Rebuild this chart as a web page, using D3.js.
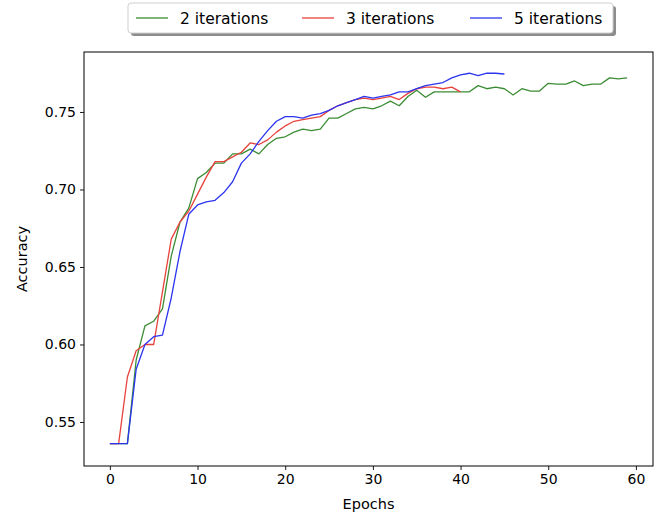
<!DOCTYPE html>
<html>
<head>
<meta charset="utf-8">
<script src="https://cdn.jsdelivr.net/npm/d3@7"></script>
<style>
  html, body { margin: 0; padding: 0; background: #fff; }
  svg { display: block; font-family: "DejaVu Sans", sans-serif; }
</style>
</head>
<body>
<svg id="chart" width="659" height="516"></svg>
<script>
// Validation accuracy per epoch for each number of iterations
const seriesNames = ["2 iterations", "3 iterations", "5 iterations"];
const seriesColors = ["#3b8c34", "#e8423d", "#2b35ee"];

const acc2 = [0.536, 0.536, 0.536, 0.590, 0.612, 0.615, 0.623, 0.657, 0.679, 0.688,
              0.707, 0.711, 0.717, 0.717, 0.723, 0.723, 0.726, 0.723, 0.729, 0.733,
              0.734, 0.737, 0.739, 0.738, 0.739, 0.746, 0.746, 0.749, 0.752, 0.753,
              0.752, 0.754, 0.757, 0.754, 0.760, 0.764, 0.7595, 0.763, 0.763, 0.763,
              0.763, 0.763, 0.767, 0.765, 0.766, 0.765, 0.761, 0.765, 0.7635, 0.7635,
              0.7685, 0.768, 0.768, 0.770, 0.767, 0.768, 0.768, 0.772, 0.7713, 0.772];

const acc3 = [0.536, 0.536, 0.579, 0.596, 0.600, 0.600, 0.634, 0.668, 0.679, 0.686,
              0.697, 0.708, 0.718, 0.718, 0.721, 0.724, 0.730, 0.729, 0.732, 0.737,
              0.741, 0.744, 0.745, 0.746, 0.747, 0.751, 0.754, 0.756, 0.758, 0.759,
              0.758, 0.759, 0.760, 0.758, 0.762, 0.765, 0.766, 0.766, 0.765, 0.766,
              0.763];

const acc5 = [0.536, 0.536, 0.536, 0.584, 0.600, 0.605, 0.606, 0.630, 0.660, 0.684,
              0.690, 0.692, 0.693, 0.698, 0.705, 0.717, 0.723, 0.731, 0.738, 0.744,
              0.747, 0.747, 0.746, 0.748, 0.749, 0.751, 0.754, 0.756, 0.758, 0.760,
              0.759, 0.760, 0.761, 0.763, 0.763, 0.765, 0.767, 0.768, 0.769, 0.772,
              0.774, 0.775, 0.7735, 0.775, 0.775, 0.7745];

const xTicks = [0, 10, 20, 30, 40, 50, 60];
const yTicks = [0.55, 0.60, 0.65, 0.70, 0.75];
const xDomain = [-2.95, 61.95];
const yDomain = [0.5216, 0.7887];

const allSeries = [acc2, acc3, acc5];

const svg = d3.select("#chart");
const plot = { left: 84, right: 653, top: 52, bottom: 466 };

const x = d3.scaleLinear().domain(xDomain).range([plot.left, plot.right]);
const y = d3.scaleLinear().domain(yDomain).range([plot.bottom, plot.top]);

// Axes
const xAxis = d3.axisBottom(x).tickValues(xTicks).tickFormat(d3.format("d"))
  .tickSizeInner(4).tickSizeOuter(0).tickPadding(4);
const yAxis = d3.axisLeft(y).tickValues(yTicks).tickFormat(d3.format(".2f"))
  .tickSizeInner(4).tickSizeOuter(0).tickPadding(4);

const gx = svg.append("g").attr("transform", `translate(0,${plot.bottom})`).call(xAxis);
const gy = svg.append("g").attr("transform", `translate(${plot.left},0)`).call(yAxis);
[gx, gy].forEach(g => {
  g.select(".domain").remove();
  g.selectAll(".tick line").attr("stroke", "#000").attr("stroke-width", 0.9);
  g.selectAll(".tick text").attr("fill", "#000").style("font-size", "14px")
    .style("font-family", "DejaVu Sans, sans-serif");
});

// Lines
const line = d3.line().x((d, i) => x(i)).y(d => y(d));
const lineGroup = svg.append("g");
allSeries.forEach((data, k) => {
  lineGroup.append("path")
    .datum(data)
    .attr("fill", "none")
    .attr("stroke", seriesColors[k])
    .attr("stroke-width", 1.3)
    .attr("stroke-linejoin", "round")
    .attr("d", line);
});

// Frame
svg.append("rect")
  .attr("x", plot.left).attr("y", plot.top)
  .attr("width", plot.right - plot.left).attr("height", plot.bottom - plot.top)
  .attr("fill", "none").attr("stroke", "#000").attr("stroke-width", 1);

// Axis titles
svg.append("text")
  .attr("x", (plot.left + plot.right) / 2).attr("y", 509)
  .attr("text-anchor", "middle").style("font-size", "14.5px").text("Epochs");
svg.append("text")
  .attr("transform", `translate(27,${(plot.top + plot.bottom) / 2}) rotate(-90)`)
  .attr("text-anchor", "middle").style("font-size", "14.5px").text("Accuracy");

// Legend above the plot, with a drop shadow
const leg = { x: 128, y: 3, w: 485, h: 30 };
const legend = svg.append("g");
legend.append("rect")
  .attr("x", leg.x + 3).attr("y", leg.y + 3).attr("width", leg.w).attr("height", leg.h)
  .attr("rx", 3).attr("fill", "#8c8c8c");
legend.append("rect")
  .attr("x", leg.x).attr("y", leg.y).attr("width", leg.w).attr("height", leg.h)
  .attr("rx", 3).attr("fill", "#fff").attr("stroke", "#cfcfcf").attr("stroke-width", 1);

const entryX = [136, 302, 470];
seriesNames.forEach((name, k) => {
  legend.append("line")
    .attr("x1", entryX[k]).attr("x2", entryX[k] + 32)
    .attr("y1", leg.y + leg.h / 2).attr("y2", leg.y + leg.h / 2)
    .attr("stroke", seriesColors[k]).attr("stroke-width", 1.3);
  legend.append("text")
    .attr("x", entryX[k] + 44).attr("y", leg.y + leg.h / 2 + 5.5)
    .style("font-size", "15.5px").text(name);
});
</script>
</body>
</html>
